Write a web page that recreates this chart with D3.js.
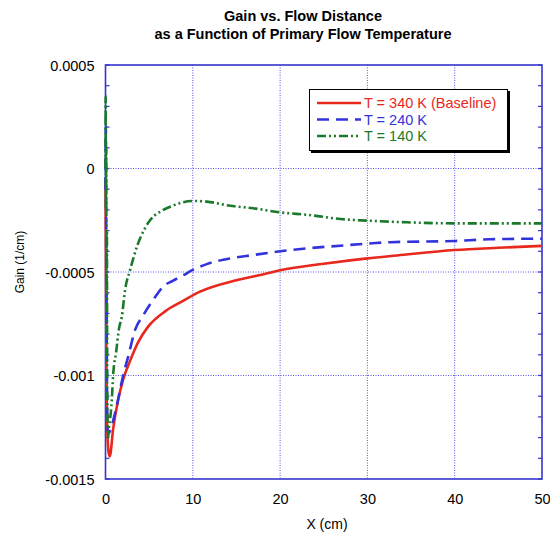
<!DOCTYPE html>
<html>
<head>
<meta charset="utf-8">
<script src="https://cdn.jsdelivr.net/npm/d3@7"></script>
<style>
  html, body { margin: 0; padding: 0; background: #fff; }
  svg { display: block; font-family: "Liberation Sans", Arial, sans-serif; }
</style>
</head>
<body>
<svg id="chart" width="550" height="535"></svg>
<script>
// ---------- data ----------
const seriesNames = ["T = 340 K (Baseline)", "T = 240 K", "T = 140 K"];
const xTicks = [0, 10, 20, 30, 40, 50];
const yTicks = [0.0005, 0, -0.0005, -0.001, -0.0015];
const yTickLabels = ["0.0005", "0", "-0.0005", "-0.001", "-0.0015"];

const x340 = [0, 0.05, 0.1, 0.2, 0.35, 0.49, 0.87, 1.44, 2.02, 2.78, 3.73, 4.88, 6.83, 8.74, 10.83, 15, 18, 20, 25, 30, 33.4, 40, 45, 50];
const g340 = [-0.00005, -0.0004, -0.0009, -0.00125, -0.00137, -0.00139, -0.00126, -0.00112, -0.00102, -0.000933, -0.00084, -0.000764, -0.00069, -0.000643, -0.000595, -0.00054, -0.000512, -0.000492, -0.00046, -0.000434, -0.00042, -0.000394, -0.000383, -0.000374];

const x240 = [0, 0.04, 0.08, 0.14, 0.2, 0.3, 1.1, 1.67, 2.02, 2.59, 3.39, 4.31, 5.87, 6.6, 7.7, 8.89, 10, 11.6, 14.3, 16.9, 20, 23, 26.9, 30.6, 32.6, 40, 44, 50];
const g240 = [-0.0001, 0.0002, -0.0003, -0.0008, -0.00122, -0.00128, -0.00118, -0.00107, -0.001, -0.00091, -0.00078, -0.00071, -0.00061, -0.00057, -0.000543, -0.000516, -0.00049, -0.000462, -0.000434, -0.000418, -0.0004, -0.000386, -0.000373, -0.000361, -0.000356, -0.00035, -0.000342, -0.000339];

const x140 = [0, 0.02, 0.05, 0.08, 0.12, 0.16, 0.2, 0.3, 0.4, 0.53, 0.72, 0.87, 1.21, 1.56, 1.87, 2.24, 2.82, 3.58, 4.54, 5.1, 5.68, 6.25, 7.4, 10, 11.6, 14.3, 16.9, 20, 23.4, 26.9, 30, 34.5, 40, 50];
const g140 = [0.0, 0.00035, -0.0002, 0.0001, -0.0006, -0.0003, -0.0011, -0.0013, -0.00125, -0.00121, -0.00112, -0.001, -0.00089, -0.00077, -0.000716, -0.000587, -0.00049, -0.00038, -0.000287, -0.00025, -0.000225, -0.000209, -0.000185, -0.000157, -0.00016, -0.00018, -0.000192, -0.000212, -0.000225, -0.000244, -0.000252, -0.00026, -0.000265, -0.000265];

const colors = ["#e8281c", "#3333dd", "#1a7a2a"];
const dashes = [null, "12,7", "9,3,2,3,2,3"];

// ---------- layout ----------
const svg = d3.select("#chart");
const L = 105.5, R = 542, T = 65, B = 479;
const x = d3.scaleLinear().domain([0, 50]).range([L, R]);
const y = d3.scaleLinear().domain([-0.0015, 0.0005]).range([B, T]);
const axisColor = "#3535cc";

// title
svg.append("text").attr("x", 303).attr("y", 21).attr("text-anchor", "middle")
  .attr("font-size", 14.5).attr("font-weight", "bold").text("Gain vs. Flow Distance");
svg.append("text").attr("x", 303).attr("y", 39).attr("text-anchor", "middle")
  .attr("font-size", 14.5).attr("font-weight", "bold").text("as a Function of Primary Flow Temperature");

// gridlines
const grid = svg.append("g");
[10, 20, 30, 40].forEach(v => {
  grid.append("line").attr("x1", x(v)).attr("x2", x(v)).attr("y1", T).attr("y2", B)
    .attr("stroke", "#5555ee").attr("stroke-width", 1).attr("stroke-dasharray", "1,1.5");
});
[0, -0.0005, -0.001].forEach(v => {
  grid.append("line").attr("x1", L).attr("x2", R).attr("y1", y(v)).attr("y2", y(v))
    .attr("stroke", "#5555ee").attr("stroke-width", 1).attr("stroke-dasharray", "1,1.5");
});

// minor ticks on left and right (inward)
const minor = d3.range(-0.0015, 0.00051, 0.0001);
const tk = svg.append("g");
minor.forEach(v => {
  tk.append("line").attr("x1", L).attr("x2", L + 4).attr("y1", y(v)).attr("y2", y(v))
    .attr("stroke", axisColor).attr("stroke-width", 1.2);
  tk.append("line").attr("x1", R).attr("x2", R - 4).attr("y1", y(v)).attr("y2", y(v))
    .attr("stroke", axisColor).attr("stroke-width", 1.2);
});

// frame
svg.append("rect").attr("x", L).attr("y", T).attr("width", R - L).attr("height", B - T)
  .attr("fill", "none").attr("stroke", axisColor).attr("stroke-width", 1.6);

// curves (drawn over the frame, as in the original)
svg.append("clipPath").attr("id", "clip").append("rect")
  .attr("x", L - 4).attr("y", T).attr("width", R - L + 4).attr("height", B - T);
const line = d3.line().x(d => x(d[0])).y(d => y(d[1])).curve(d3.curveMonotoneX);
const data = [d3.zip(x340, g340), d3.zip(x240, g240), d3.zip(x140, g140)];
const order = [0, 1, 2];
order.forEach(i => {
  svg.append("path").attr("clip-path", "url(#clip)")
    .attr("d", line(data[i])).attr("fill", "none")
    .attr("stroke", colors[i]).attr("stroke-width", 2.6)
    .attr("stroke-dasharray", dashes[i]);
});

// axes labels
const xAxis = d3.axisBottom(x).tickValues(xTicks).tickSize(0).tickPadding(0);
const gx = svg.append("g").attr("transform", `translate(0,${B})`).call(xAxis);
gx.select(".domain").remove();
gx.selectAll("text").attr("font-size", 14.5).attr("font-family", "Liberation Sans, Arial, sans-serif")
  .attr("fill", "#000").attr("dy", null).attr("y", 25);

const yAxis = d3.axisLeft(y).tickValues(yTicks).tickFormat((d, i) => yTickLabels[i]).tickSize(0).tickPadding(0);
const gy = svg.append("g").attr("transform", `translate(${L},0)`).call(yAxis);
gy.select(".domain").remove();
gy.selectAll("text").attr("font-size", 14.5).attr("font-family", "Liberation Sans, Arial, sans-serif")
  .attr("fill", "#000").attr("x", -11).attr("dy", "0.35em");

svg.append("text").attr("x", 327).attr("y", 529).attr("text-anchor", "middle")
  .attr("font-size", 14).text("X (cm)");
svg.append("text").attr("transform", "translate(24,262) rotate(-90)").attr("text-anchor", "middle")
  .attr("font-size", 12).text("Gain (1/cm)");

// legend
const lg = svg.append("g");
lg.append("rect").attr("x", 311).attr("y", 91).attr("width", 199).attr("height", 62).attr("fill", "#000");
lg.append("rect").attr("x", 309.5).attr("y", 89.5).attr("width", 198).attr("height", 61)
  .attr("fill", "#fff").attr("stroke", "#000").attr("stroke-width", 1);
seriesNames.forEach((name, i) => {
  const yy = 103 + i * 16.5;
  lg.append("line").attr("x1", 317).attr("x2", 361).attr("y1", yy).attr("y2", yy)
    .attr("stroke", colors[i]).attr("stroke-width", 2.6).attr("stroke-dasharray", dashes[i]);
  lg.append("text").attr("x", 364).attr("y", yy).attr("dy", "0.36em")
    .attr("font-size", 14.5).attr("fill", colors[i]).text(name);
});
</script>
</body>
</html>
